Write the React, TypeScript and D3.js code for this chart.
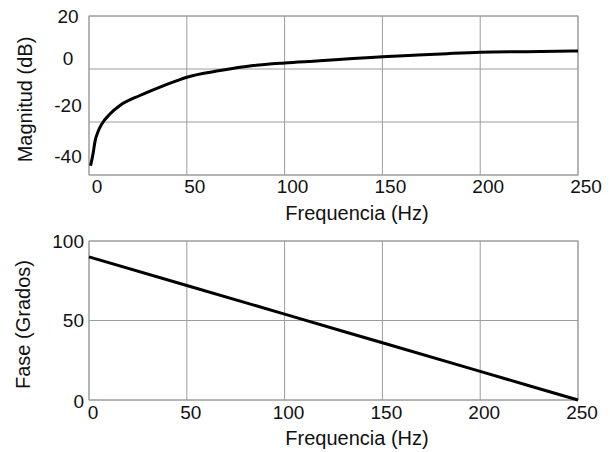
import * as d3 from "d3";

// magnitude response
const magFreq = [0.8, 2.2, 3, 4.8, 6.5, 10.7, 15.8, 26, 36, 45, 50, 67, 84, 100, 118, 135, 150, 166, 183, 200, 231, 250];
const magDb = [-36.5, -31.4, -27.6, -23.3, -20.8, -17, -13.8, -10, -6.9, -4.4, -3.1, -0.6, 1.3, 2.3, 3.1, 4, 4.6, 5.2, 5.8, 6.3, 6.6, 6.8];

// phase response
const phaseFreq = [0, 50, 100, 150, 200, 250];
const phaseDeg = [90, 72, 54, 36, 18, 0];

const xTicks = [0, 50, 100, 150, 200, 250];
const magTicks = [20, 0, -20, -40];
const phaseTicks = [100, 50, 0];

const FONT = "'Liberation Sans', Arial, Helvetica, sans-serif";
const GRID = "#9c9c9c";

const left = 89, right = 578;

function Panel({ top, bottom, yDomain, yTicks, freq, vals, yTitle, tickLabelY, tickDx, titleY, yLabelPos, yAnchor, yLabelX, yTitleX }) {
  const x = d3.scaleLinear().domain([0, 250]).range([left, right]);
  const y = d3.scaleLinear().domain(yDomain).range([bottom, top]);
  const line = d3.line<number>()
    .x((d, i) => x(freq[i]))
    .y((d) => y(d))
    .curve(d3.curveMonotoneX);

  const yGrid = y.ticks(yDomain[1] - yDomain[0] > 80 ? 2 : 3);

  return (
    <g>
      {xTicks.map((t) => (
        <line key={"gx" + t} x1={x(t)} x2={x(t)} y1={top} y2={bottom} stroke={GRID} strokeWidth={1} />
      ))}
      {yGrid.map((t) => (
        <line key={"gy" + t} x1={left} x2={right} y1={y(t)} y2={y(t)} stroke={GRID} strokeWidth={1} />
      ))}
      <rect x={left} y={top} width={right - left} height={bottom - top} fill="none" stroke={GRID} strokeWidth={1} />
      <path d={line(vals) || ""} fill="none" stroke="#000" strokeWidth={3} strokeLinejoin="round" />
      {xTicks.map((t) => (
        <text key={"xl" + t} x={x(t) + tickDx} y={tickLabelY} textAnchor="middle" fontSize={19} fill="#111">{t}</text>
      ))}
      {yTicks.map((t) => (
        <text key={"yl" + t} x={yLabelX} y={yLabelPos(t)} textAnchor={yAnchor} fontSize={19} fill="#111">{t}</text>
      ))}
      <text x={357} y={titleY} textAnchor="middle" fontSize={20} fill="#111">Frequencia (Hz)</text>
      <text transform={`translate(${yTitleX},${(top + bottom) / 2 + 4}) rotate(-90)`} textAnchor="middle" fontSize={20} fill="#111">{yTitle}</text>
    </g>
  );
}

export default function App() {
  // tick label placement as drawn in the original (not aligned with the grid)
  const magLabelY = d3.scaleLinear().domain([20, 0, -20, -40]).range([23, 65, 112, 163]);
  const phaseLabelY = d3.scaleLinear().domain([100, 50, 0]).range([248, 327, 408]);

  return (
    <svg width={610} height={452} style={{ position: "absolute", left: 0, top: 0, background: "#fff" }} fontFamily={FONT}>
      <Panel
        top={16} bottom={175} yDomain={[-40, 20]} yTicks={magTicks}
        freq={magFreq} vals={magDb} yTitle="Magnitud (dB)"
        tickLabelY={193} tickDx={8} titleY={220}
        yLabelPos={magLabelY} yAnchor="middle" yLabelX={68} yTitleX={32}
      />
      <Panel
        top={241} bottom={400} yDomain={[0, 100]} yTicks={phaseTicks}
        freq={phaseFreq} vals={phaseDeg} yTitle="Fase (Grados)"
        tickLabelY={419} tickDx={4} titleY={445}
        yLabelPos={phaseLabelY} yAnchor="end" yLabelX={84} yTitleX={30}
      />
    </svg>
  );
}
